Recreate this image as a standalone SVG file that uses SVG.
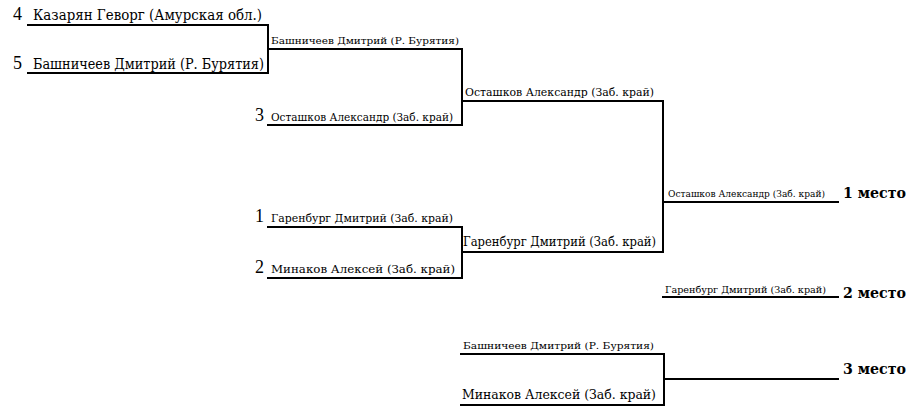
<svg xmlns="http://www.w3.org/2000/svg" width="911" height="408" viewBox="0 0 911 408">
<style>
text{font-family:"DejaVu Serif Condensed","DejaVu Serif","Liberation Serif",serif;fill:#000}
.num{font-family:"Liberation Serif",serif;font-size:18px}
.n16{font-size:15px}
.n13{font-size:12px}
.n12{font-size:11px}
.n11{font-size:10px}
.n10{font-size:9px}
.place{font-size:15px;font-weight:bold}
.ln{stroke:#000;stroke-width:2;fill:none;stroke-linecap:square}
</style>
<rect width="911" height="408" fill="#fff"/>
<g id="connectors">
<path class="ln" d="M28,25H268V73H28M268,49H462"/>
<path class="ln" d="M462,49V125H268M462,101H663"/>
<path class="ln" d="M268,227H462V278H268M462,252H663"/>
<path class="ln" d="M663,101V252M663,202H838"/>
<path class="ln" d="M663,297H838"/>
<path class="ln" d="M461,354H664V405H461M664,379H838"/>
</g>
<g id="p4"><text class="num" x="13" y="20">4</text><text class="n16" x="33" y="20" textLength="229" lengthAdjust="spacingAndGlyphs">Казарян Геворг (Амурская обл.)</text></g>
<g id="p5"><text class="num" x="13" y="69">5</text><text class="n16" x="33" y="69" textLength="231" lengthAdjust="spacingAndGlyphs">Башничеев Дмитрий (Р. Бурятия)</text></g>
<g id="w1"><text class="n11" x="271" y="44" textLength="188" lengthAdjust="spacingAndGlyphs">Башничеев Дмитрий (Р. Бурятия)</text></g>
<g id="p3"><text class="num" x="255" y="121">3</text><text class="n12" x="271" y="121" textLength="182" lengthAdjust="spacingAndGlyphs">Осташков Александр (Заб. край)</text></g>
<g id="w2"><text class="n12" x="465" y="96" textLength="189" lengthAdjust="spacingAndGlyphs">Осташков Александр (Заб. край)</text></g>
<g id="p1"><text class="num" x="255" y="222">1</text><text class="n12" x="271" y="222" textLength="182" lengthAdjust="spacingAndGlyphs">Гаренбург Дмитрий (Заб. край)</text></g>
<g id="p2"><text class="num" x="255" y="273">2</text><text class="n12" x="271" y="273" textLength="184" lengthAdjust="spacingAndGlyphs">Минаков Алексей (Заб. край)</text></g>
<g id="w3"><text class="n13" x="463" y="246" textLength="193" lengthAdjust="spacingAndGlyphs">Гаренбург Дмитрий (Заб. край)</text></g>
<g id="final"><text class="n10" x="668" y="197" textLength="157" lengthAdjust="spacingAndGlyphs">Осташков Александр (Заб. край)</text><text class="place" x="843" y="198" textLength="63" lengthAdjust="spacingAndGlyphs">1 место</text></g>
<g id="second"><text class="n10" x="665" y="293" textLength="161" lengthAdjust="spacingAndGlyphs">Гаренбург Дмитрий (Заб. край)</text><text class="place" x="843" y="298" textLength="63" lengthAdjust="spacingAndGlyphs">2 место</text></g>
<g id="third-a"><text class="n11" x="463" y="349" textLength="191" lengthAdjust="spacingAndGlyphs">Башничеев Дмитрий (Р. Бурятия)</text></g>
<g id="third-b"><text class="n13" x="462" y="399" textLength="194" lengthAdjust="spacingAndGlyphs">Минаков Алексей (Заб. край)</text></g>
<g id="third"><text class="place" x="843" y="374" textLength="63" lengthAdjust="spacingAndGlyphs">3 место</text></g>
</svg>
